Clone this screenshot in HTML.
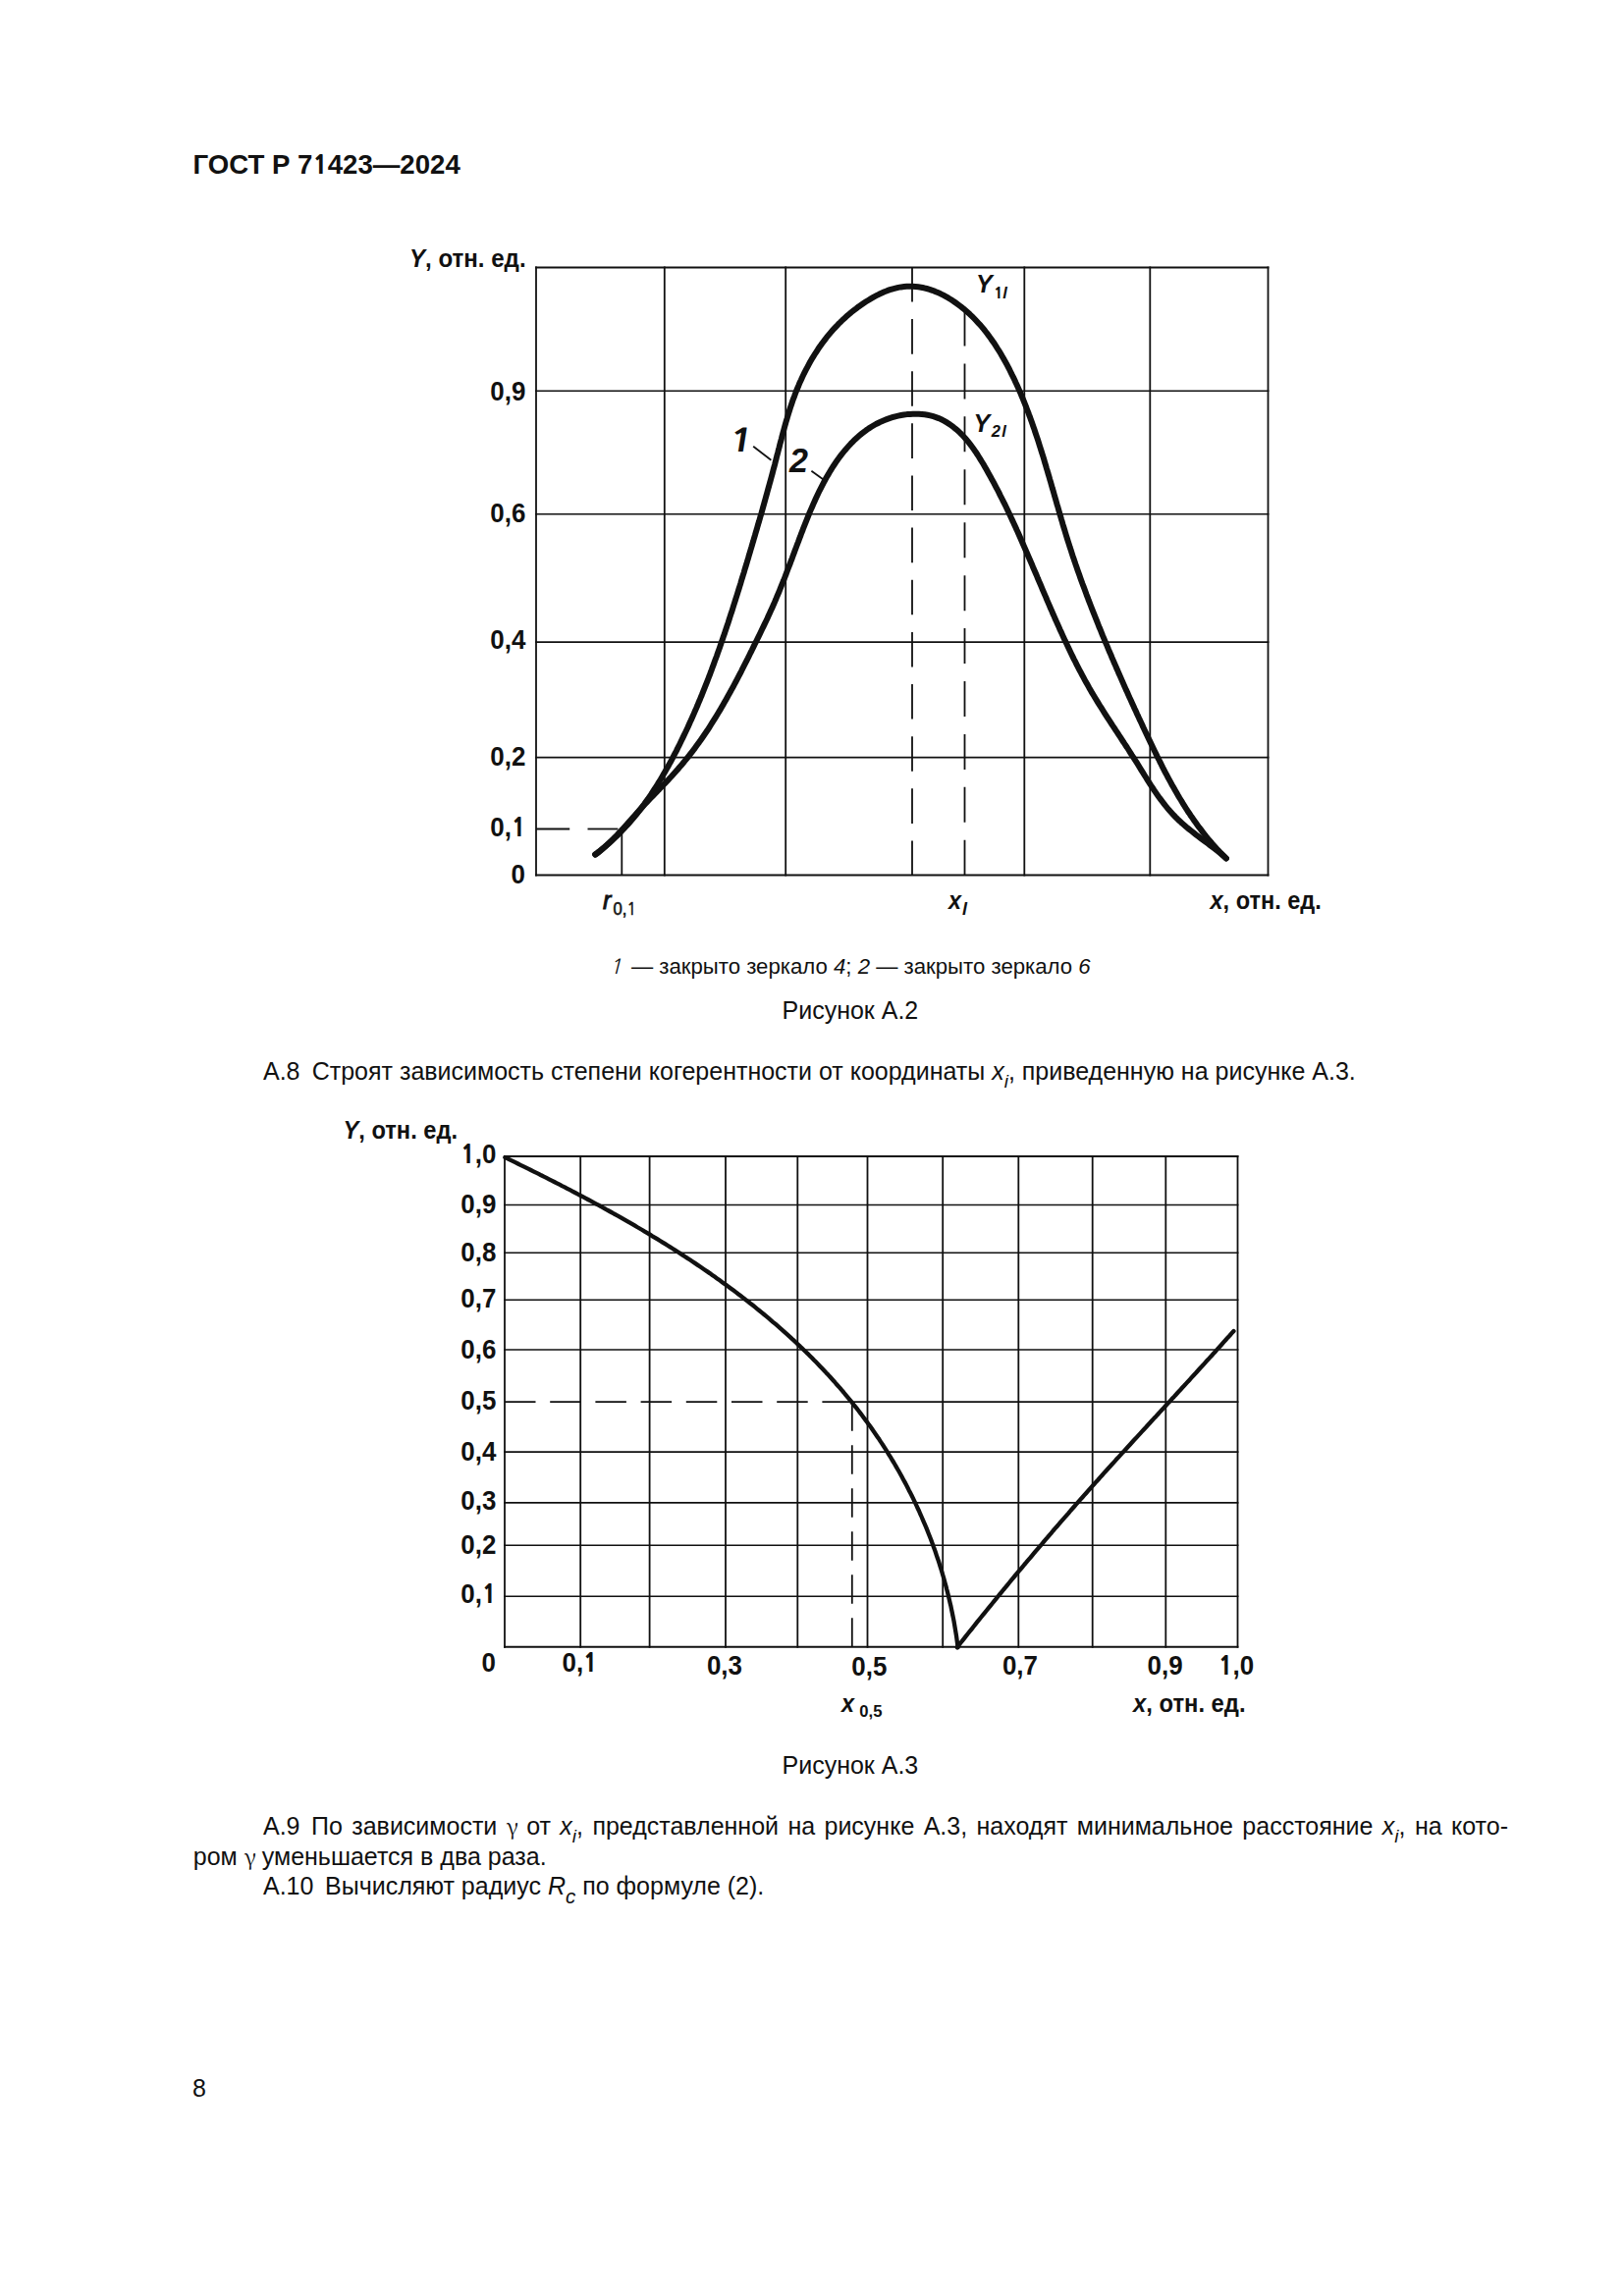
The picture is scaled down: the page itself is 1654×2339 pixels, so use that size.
<!DOCTYPE html>
<html lang="ru">
<head>
<meta charset="utf-8">
<title>ГОСТ Р 71423—2024</title>
<style>
html,body{margin:0;padding:0;background:#fff;}
body{width:1654px;height:2339px;position:relative;overflow:hidden;font-family:"Liberation Sans",Arial,sans-serif;color:#111;}
svg{position:absolute;left:0;top:0;}
svg line{stroke:#111;stroke-width:1.8;}
svg line.h{stroke-width:1.6;}
svg line.hb{stroke-width:2;}
svg .one{font-family:"NanumGothic","Liberation Sans",sans-serif;font-weight:800;font-size:0.93em;letter-spacing:-0.01em;}
svg .one1{font-family:"NanumGothic","Liberation Sans",sans-serif;font-size:0.95em;letter-spacing:-0.02em;}
svg .cv{fill:none;stroke:#111;stroke-linecap:round;stroke-linejoin:round;}
svg text{font-family:"Liberation Sans",Arial,sans-serif;fill:#111;}
.b{font-weight:bold;}
.i{font-style:italic;}
.ln{position:absolute;white-space:nowrap;font-size:25px;line-height:30px;}
.ln i{font-style:italic;}
.g{font-family:"Noto Serif CJK SC","Liberation Serif",serif;font-style:normal;font-size:23px;letter-spacing:-1.4px;line-height:0;}
sub{font-size:19px;vertical-align:-8px;line-height:0;}
sub.c{font-size:20.5px;vertical-align:-9.4px;}
.pf{display:inline-block;width:49px;}
</style>
</head>
<body>
<svg width="1654" height="2339" viewBox="0 0 1654 2339">
<line x1="546.0" y1="271.5" x2="546.0" y2="892.4"/>
<line x1="676.8" y1="271.5" x2="676.8" y2="892.4"/>
<line x1="800.2" y1="271.5" x2="800.2" y2="892.4"/>
<line x1="1043.3" y1="271.5" x2="1043.3" y2="892.4"/>
<line x1="1171.3" y1="271.5" x2="1171.3" y2="892.4"/>
<line x1="1291.5" y1="271.5" x2="1291.5" y2="892.4"/>
<line class="hb" x1="545.1" y1="272.4" x2="1292.4" y2="272.4"/>
<line class="h" x1="545.1" y1="398.2" x2="1292.4" y2="398.2"/>
<line class="h" x1="545.1" y1="523.7" x2="1292.4" y2="523.7"/>
<line class="h" x1="545.1" y1="654.1" x2="1292.4" y2="654.1"/>
<line class="h" x1="545.1" y1="771.6" x2="1292.4" y2="771.6"/>
<line class="hb" x1="545.1" y1="891.5" x2="1292.4" y2="891.5"/>
<line class="d1" x1="929" y1="271.9" x2="929" y2="891.3" stroke-dasharray="35.6 17.54"/>
<line class="d1" x1="982.5" y1="316.5" x2="982.5" y2="891.3" stroke-dasharray="36 17.93"/>
<line x1="546" y1="844.5" x2="580.2" y2="844.5"/>
<line x1="598.5" y1="844.5" x2="629.4" y2="844.5"/>
<line x1="633.3" y1="848" x2="633.3" y2="891.3"/>
<line x1="767.2" y1="454.7" x2="785.4" y2="468.8" stroke-width="1.6"/>
<line x1="826.4" y1="479.8" x2="838.9" y2="488.7" stroke-width="1.6"/>
<path class="cv" d="M606.1,870.5 L608.5,868.7 L610.9,866.8 L613.3,864.9 L615.7,863.0 L618.0,861.0 L620.3,859.0 L622.5,857.0 L624.8,854.9 L626.9,852.9 L629.1,850.8 L631.2,848.7 L633.3,846.5 L635.4,844.3 L637.4,842.1 L639.4,839.9 L641.4,837.7 L643.4,835.4 L645.3,833.1 L647.2,830.8 L649.1,828.5 L650.9,826.1 L652.7,823.8 L654.5,821.4 L656.3,819.0 L658.0,816.5 L659.8,814.1 L661.5,811.6 L663.2,809.2 L664.8,806.7 L666.4,804.2 L668.1,801.6 L669.7,799.1 L671.2,796.5 L672.8,794.0 L674.3,791.4 L675.8,788.8 L677.3,786.2 L678.8,783.6 L680.3,781.0 L681.7,778.4 L683.2,775.7 L684.6,773.1 L686.0,770.4 L687.4,767.7 L688.8,765.1 L690.1,762.4 L691.5,759.7 L692.8,757.0 L694.1,754.3 L695.4,751.6 L696.7,748.9 L698.0,746.2 L699.3,743.5 L700.6,740.8 L701.8,738.0 L703.0,735.3 L704.3,732.6 L705.5,729.8 L706.7,727.1 L707.9,724.3 L709.1,721.6 L710.3,718.8 L711.4,716.0 L712.6,713.3 L713.7,710.5 L714.9,707.7 L716.0,704.9 L717.1,702.2 L718.2,699.4 L719.3,696.6 L720.4,693.8 L721.5,691.0 L722.6,688.2 L723.6,685.4 L724.7,682.6 L725.7,679.8 L726.8,676.9 L727.8,674.1 L728.8,671.3 L729.9,668.5 L730.9,665.6 L731.9,662.8 L732.9,660.0 L733.9,657.1 L734.8,654.3 L735.8,651.5 L736.8,648.6 L737.8,645.8 L738.7,642.9 L739.7,640.1 L740.6,637.2 L741.6,634.4 L742.5,631.5 L743.4,628.7 L744.3,625.8 L745.3,622.9 L746.2,620.1 L747.1,617.2 L748.0,614.4 L748.9,611.5 L749.8,608.6 L750.7,605.8 L751.6,602.9 L752.5,600.0 L753.4,597.2 L754.3,594.3 L755.1,591.4 L756.0,588.5 L756.9,585.7 L757.8,582.8 L758.6,579.9 L759.5,577.0 L760.4,574.2 L761.2,571.3 L762.1,568.4 L762.9,565.5 L763.8,562.7 L764.6,559.8 L765.5,556.9 L766.3,554.1 L767.2,551.2 L768.0,548.3 L768.9,545.4 L769.7,542.5 L770.6,539.7 L771.4,536.8 L772.2,533.9 L773.1,531.0 L773.9,528.2 L774.7,525.3 L775.6,522.4 L776.4,519.5 L777.2,516.6 L778.0,513.7 L778.8,510.9 L779.6,508.0 L780.4,505.1 L781.2,502.2 L782.0,499.3 L782.8,496.4 L783.6,493.5 L784.4,490.6 L785.2,487.7 L786.0,484.8 L786.8,481.9 L787.5,479.0 L788.3,476.1 L789.1,473.2 L789.8,470.3 L790.6,467.4 L791.3,464.4 L792.1,461.5 L792.8,458.6 L793.6,455.7 L794.3,452.8 L795.1,449.9 L795.9,446.9 L796.6,444.0 L797.4,441.1 L798.2,438.2 L799.0,435.3 L799.8,432.4 L800.6,429.5 L801.5,426.6 L802.3,423.8 L803.2,420.9 L804.1,418.0 L805.0,415.2 L806.0,412.3 L806.9,409.5 L807.9,406.6 L809.0,403.8 L810.0,401.0 L811.1,398.2 L812.2,395.5 L813.4,392.7 L814.5,389.9 L815.8,387.2 L817.0,384.5 L818.3,381.8 L819.6,379.1 L821.0,376.4 L822.4,373.8 L823.8,371.1 L825.2,368.5 L826.7,365.9 L828.3,363.4 L829.9,360.8 L831.5,358.3 L833.1,355.8 L834.8,353.3 L836.5,350.9 L838.3,348.5 L840.1,346.1 L841.9,343.7 L843.8,341.4 L845.7,339.1 L847.7,336.8 L849.7,334.6 L851.8,332.4 L853.8,330.2 L856.0,328.1 L858.1,326.0 L860.4,324.0 L862.6,321.9 L864.9,320.0 L867.2,318.0 L869.6,316.1 L872.0,314.3 L874.4,312.4 L876.9,310.7 L879.4,309.0 L882.0,307.3 L884.6,305.7 L887.2,304.1 L889.8,302.6 L892.5,301.2 L895.2,299.8 L898.0,298.5 L900.7,297.3 L903.5,296.2 L906.3,295.2 L909.2,294.3 L912.0,293.6 L914.9,292.9 L917.8,292.4 L920.7,292.1 L923.6,291.8 L926.5,291.8 L929.4,291.8 L932.3,292.0 L935.2,292.3 L938.1,292.7 L941.0,293.3 L943.9,294.0 L946.8,294.8 L949.6,295.8 L952.4,296.9 L955.2,298.1 L958.0,299.3 L960.7,300.7 L963.4,302.2 L966.1,303.7 L968.7,305.3 L971.3,307.0 L973.8,308.8 L976.3,310.6 L978.7,312.4 L981.1,314.3 L983.4,316.3 L985.7,318.3 L987.9,320.3 L990.1,322.4 L992.2,324.5 L994.3,326.7 L996.3,328.9 L998.3,331.1 L1000.3,333.4 L1002.2,335.7 L1004.0,338.0 L1005.9,340.4 L1007.6,342.8 L1009.4,345.2 L1011.1,347.7 L1012.8,350.1 L1014.4,352.6 L1016.0,355.2 L1017.6,357.7 L1019.2,360.3 L1020.7,362.9 L1022.2,365.5 L1023.6,368.1 L1025.1,370.7 L1026.5,373.4 L1027.9,376.0 L1029.2,378.7 L1030.5,381.4 L1031.9,384.1 L1033.2,386.8 L1034.4,389.5 L1035.7,392.2 L1036.9,394.9 L1038.1,397.7 L1039.3,400.4 L1040.5,403.2 L1041.6,405.9 L1042.7,408.7 L1043.8,411.4 L1044.9,414.2 L1046.0,417.0 L1047.1,419.8 L1048.1,422.6 L1049.2,425.4 L1050.2,428.2 L1051.2,431.0 L1052.2,433.9 L1053.2,436.7 L1054.1,439.5 L1055.1,442.4 L1056.0,445.2 L1057.0,448.1 L1057.9,450.9 L1058.8,453.8 L1059.7,456.6 L1060.6,459.5 L1061.5,462.4 L1062.4,465.2 L1063.3,468.1 L1064.1,471.0 L1065.0,473.9 L1065.8,476.8 L1066.7,479.6 L1067.5,482.5 L1068.4,485.4 L1069.2,488.3 L1070.1,491.2 L1070.9,494.1 L1071.7,497.0 L1072.6,499.9 L1073.4,502.8 L1074.2,505.7 L1075.1,508.6 L1075.9,511.5 L1076.7,514.4 L1077.6,517.2 L1078.4,520.1 L1079.2,523.0 L1080.1,525.9 L1080.9,528.8 L1081.8,531.7 L1082.6,534.6 L1083.5,537.5 L1084.4,540.4 L1085.2,543.2 L1086.1,546.1 L1087.0,549.0 L1087.9,551.9 L1088.8,554.7 L1089.7,557.6 L1090.7,560.4 L1091.6,563.3 L1092.5,566.2 L1093.5,569.0 L1094.5,571.9 L1095.4,574.7 L1096.4,577.5 L1097.4,580.4 L1098.4,583.2 L1099.4,586.0 L1100.4,588.9 L1101.4,591.7 L1102.4,594.5 L1103.5,597.3 L1104.5,600.1 L1105.6,603.0 L1106.6,605.8 L1107.7,608.6 L1108.7,611.4 L1109.8,614.2 L1110.9,617.0 L1112.0,619.8 L1113.1,622.6 L1114.2,625.4 L1115.3,628.1 L1116.4,630.9 L1117.5,633.7 L1118.6,636.5 L1119.7,639.3 L1120.9,642.0 L1122.0,644.8 L1123.1,647.6 L1124.3,650.4 L1125.4,653.1 L1126.6,655.9 L1127.8,658.6 L1128.9,661.4 L1130.1,664.2 L1131.3,666.9 L1132.4,669.7 L1133.6,672.4 L1134.8,675.2 L1136.0,677.9 L1137.2,680.7 L1138.4,683.4 L1139.6,686.2 L1140.8,688.9 L1142.0,691.6 L1143.2,694.4 L1144.4,697.1 L1145.6,699.9 L1146.8,702.6 L1148.1,705.3 L1149.3,708.1 L1150.5,710.8 L1151.8,713.5 L1153.0,716.2 L1154.3,719.0 L1155.5,721.7 L1156.8,724.4 L1158.0,727.2 L1159.3,729.9 L1160.5,732.6 L1161.8,735.3 L1163.1,738.0 L1164.3,740.8 L1165.6,743.5 L1166.9,746.2 L1168.2,748.9 L1169.5,751.7 L1170.8,754.4 L1172.1,757.1 L1173.4,759.8 L1174.7,762.5 L1176.0,765.2 L1177.3,767.9 L1178.6,770.6 L1180.0,773.3 L1181.3,776.0 L1182.7,778.7 L1184.0,781.4 L1185.4,784.1 L1186.8,786.8 L1188.2,789.4 L1189.6,792.1 L1191.0,794.7 L1192.5,797.4 L1193.9,800.0 L1195.4,802.6 L1196.9,805.2 L1198.4,807.8 L1199.9,810.4 L1201.4,813.0 L1203.0,815.5 L1204.5,818.1 L1206.1,820.6 L1207.7,823.2 L1209.3,825.7 L1211.0,828.2 L1212.6,830.7 L1214.3,833.1 L1216.0,835.6 L1217.8,838.0 L1219.5,840.4 L1221.3,842.9 L1223.1,845.2 L1224.9,847.6 L1226.8,850.0 L1228.6,852.3 L1230.5,854.6 L1232.5,856.9 L1234.4,859.2 L1236.4,861.4 L1238.4,863.7 L1240.4,865.9 L1242.5,868.1 L1244.6,870.2 L1246.8,872.4 L1248.9,874.5" stroke-width="6.0"/>
<path class="cv" d="M606.5,870.7 L608.9,868.9 L611.2,867.0 L613.5,865.0 L615.7,863.0 L617.9,861.0 L620.1,859.0 L622.3,856.9 L624.4,854.8 L626.5,852.7 L628.6,850.5 L630.6,848.3 L632.7,846.1 L634.7,843.9 L636.7,841.7 L638.7,839.5 L640.7,837.2 L642.7,835.0 L644.7,832.7 L646.7,830.5 L648.7,828.2 L650.7,826.0 L652.7,823.8 L654.8,821.5 L656.8,819.3 L658.9,817.1 L660.9,815.0 L663.0,812.8 L665.1,810.6 L667.2,808.4 L669.3,806.3 L671.4,804.1 L673.4,801.9 L675.5,799.8 L677.6,797.6 L679.7,795.4 L681.7,793.2 L683.8,791.0 L685.8,788.8 L687.8,786.6 L689.8,784.3 L691.7,782.0 L693.7,779.8 L695.6,777.5 L697.5,775.2 L699.4,772.8 L701.3,770.5 L703.1,768.1 L704.9,765.8 L706.8,763.4 L708.5,761.0 L710.3,758.5 L712.1,756.1 L713.8,753.7 L715.5,751.2 L717.2,748.7 L718.9,746.3 L720.6,743.8 L722.2,741.3 L723.8,738.7 L725.4,736.2 L727.0,733.7 L728.6,731.1 L730.2,728.5 L731.7,726.0 L733.3,723.4 L734.8,720.8 L736.3,718.2 L737.8,715.6 L739.3,713.0 L740.8,710.3 L742.2,707.7 L743.7,705.1 L745.1,702.4 L746.6,699.8 L748.0,697.1 L749.4,694.5 L750.8,691.8 L752.2,689.1 L753.6,686.5 L755.0,683.8 L756.3,681.1 L757.7,678.4 L759.1,675.7 L760.4,673.1 L761.8,670.4 L763.1,667.7 L764.4,665.0 L765.8,662.3 L767.1,659.6 L768.4,656.9 L769.8,654.2 L771.1,651.5 L772.4,648.9 L773.7,646.2 L775.0,643.5 L776.3,640.8 L777.6,638.1 L778.9,635.4 L780.2,632.7 L781.5,630.0 L782.7,627.3 L784.0,624.5 L785.2,621.8 L786.5,619.1 L787.7,616.3 L788.9,613.6 L790.1,610.8 L791.2,608.0 L792.4,605.3 L793.6,602.5 L794.7,599.7 L795.8,596.9 L796.9,594.1 L798.1,591.3 L799.2,588.5 L800.3,585.7 L801.3,582.8 L802.4,580.0 L803.5,577.2 L804.6,574.4 L805.6,571.6 L806.7,568.8 L807.7,566.0 L808.8,563.1 L809.8,560.3 L810.9,557.5 L811.9,554.8 L813.0,552.0 L814.0,549.2 L815.1,546.4 L816.1,543.6 L817.2,540.9 L818.2,538.1 L819.3,535.4 L820.4,532.6 L821.5,529.9 L822.6,527.1 L823.7,524.4 L824.8,521.6 L826.0,518.9 L827.2,516.2 L828.4,513.4 L829.6,510.7 L830.8,508.0 L832.1,505.2 L833.4,502.5 L834.7,499.8 L836.1,497.1 L837.5,494.4 L838.9,491.7 L840.3,489.0 L841.8,486.3 L843.4,483.6 L844.9,481.0 L846.5,478.4 L848.1,475.8 L849.8,473.3 L851.5,470.7 L853.2,468.2 L855.0,465.8 L856.8,463.4 L858.7,461.0 L860.6,458.7 L862.6,456.4 L864.6,454.1 L866.6,451.9 L868.7,449.8 L870.8,447.7 L873.0,445.7 L875.2,443.8 L877.5,441.9 L879.8,440.1 L882.2,438.3 L884.6,436.6 L887.1,435.0 L889.6,433.5 L892.2,432.0 L894.8,430.7 L897.5,429.4 L900.3,428.2 L903.1,427.1 L905.9,426.1 L908.8,425.2 L911.8,424.3 L914.7,423.6 L917.7,423.0 L920.7,422.5 L923.7,422.1 L926.8,421.9 L929.8,421.7 L932.8,421.7 L935.8,421.8 L938.8,422.0 L941.8,422.3 L944.7,422.8 L947.6,423.4 L950.5,424.2 L953.3,425.1 L956.0,426.1 L958.7,427.3 L961.3,428.6 L963.9,430.1 L966.4,431.7 L968.8,433.4 L971.2,435.2 L973.5,437.1 L975.8,439.1 L978.0,441.1 L980.1,443.3 L982.2,445.5 L984.2,447.8 L986.2,450.2 L988.1,452.6 L989.9,455.0 L991.7,457.5 L993.4,459.9 L995.1,462.5 L996.7,465.0 L998.3,467.6 L999.9,470.2 L1001.5,472.8 L1003.0,475.4 L1004.5,478.0 L1006.0,480.7 L1007.4,483.3 L1008.9,485.9 L1010.3,488.6 L1011.8,491.2 L1013.2,493.9 L1014.6,496.6 L1016.0,499.2 L1017.4,501.9 L1018.7,504.6 L1020.1,507.3 L1021.4,510.0 L1022.8,512.6 L1024.1,515.3 L1025.4,518.0 L1026.7,520.8 L1028.0,523.5 L1029.3,526.2 L1030.5,528.9 L1031.8,531.6 L1033.0,534.3 L1034.3,537.1 L1035.5,539.8 L1036.8,542.5 L1038.0,545.3 L1039.2,548.0 L1040.4,550.7 L1041.6,553.5 L1042.8,556.2 L1044.0,559.0 L1045.2,561.7 L1046.4,564.5 L1047.6,567.2 L1048.8,570.0 L1050.0,572.7 L1051.2,575.5 L1052.3,578.3 L1053.5,581.0 L1054.7,583.8 L1055.9,586.5 L1057.0,589.3 L1058.2,592.1 L1059.4,594.8 L1060.6,597.6 L1061.7,600.3 L1062.9,603.1 L1064.1,605.9 L1065.3,608.6 L1066.4,611.4 L1067.6,614.1 L1068.8,616.9 L1070.0,619.7 L1071.2,622.4 L1072.4,625.2 L1073.6,627.9 L1074.8,630.7 L1076.0,633.4 L1077.3,636.2 L1078.5,638.9 L1079.7,641.7 L1081.0,644.4 L1082.2,647.1 L1083.5,649.9 L1084.7,652.6 L1086.0,655.3 L1087.3,658.0 L1088.6,660.8 L1089.9,663.5 L1091.2,666.2 L1092.5,668.9 L1093.8,671.6 L1095.2,674.2 L1096.5,676.9 L1097.9,679.6 L1099.3,682.3 L1100.7,684.9 L1102.1,687.6 L1103.5,690.2 L1104.9,692.8 L1106.4,695.5 L1107.9,698.1 L1109.3,700.7 L1110.8,703.3 L1112.3,705.9 L1113.9,708.5 L1115.4,711.0 L1117.0,713.6 L1118.5,716.1 L1120.1,718.7 L1121.7,721.2 L1123.3,723.8 L1124.9,726.3 L1126.5,728.8 L1128.1,731.3 L1129.8,733.9 L1131.4,736.4 L1133.0,738.9 L1134.7,741.4 L1136.3,743.9 L1138.0,746.4 L1139.6,748.9 L1141.3,751.4 L1142.9,754.0 L1144.6,756.5 L1146.2,759.0 L1147.9,761.5 L1149.5,764.0 L1151.1,766.6 L1152.7,769.1 L1154.4,771.6 L1156.0,774.2 L1157.6,776.7 L1159.2,779.3 L1160.7,781.8 L1162.3,784.4 L1163.9,786.9 L1165.5,789.5 L1167.1,792.0 L1168.7,794.6 L1170.3,797.1 L1171.9,799.6 L1173.6,802.1 L1175.2,804.6 L1176.9,807.1 L1178.6,809.6 L1180.3,812.0 L1182.1,814.4 L1183.9,816.8 L1185.7,819.1 L1187.6,821.5 L1189.5,823.8 L1191.4,826.0 L1193.4,828.2 L1195.4,830.4 L1197.5,832.6 L1199.6,834.7 L1201.8,836.7 L1204.0,838.8 L1206.3,840.7 L1208.6,842.7 L1210.9,844.6 L1213.3,846.5 L1215.7,848.4 L1218.1,850.3 L1220.5,852.1 L1223.0,854.0 L1225.4,855.8 L1227.8,857.6 L1230.3,859.4 L1232.7,861.3 L1235.1,863.1 L1237.5,864.9 L1239.8,866.8 L1242.2,868.7 L1244.5,870.6 L1246.7,872.5 L1248.9,874.4" stroke-width="6.0"/>
<line x1="514.0" y1="1177.1" x2="514.0" y2="1678.7"/>
<line x1="591.2" y1="1177.1" x2="591.2" y2="1678.7"/>
<line x1="661.6" y1="1177.1" x2="661.6" y2="1678.7"/>
<line x1="739.0" y1="1177.1" x2="739.0" y2="1678.7"/>
<line x1="812.3" y1="1177.1" x2="812.3" y2="1678.7"/>
<line x1="883.5" y1="1177.1" x2="883.5" y2="1678.7"/>
<line x1="960.2" y1="1177.1" x2="960.2" y2="1678.7"/>
<line x1="1037.3" y1="1177.1" x2="1037.3" y2="1678.7"/>
<line x1="1112.7" y1="1177.1" x2="1112.7" y2="1678.7"/>
<line x1="1187.3" y1="1177.1" x2="1187.3" y2="1678.7"/>
<line x1="1260.5" y1="1177.1" x2="1260.5" y2="1678.7"/>
<line class="hb" x1="513.1" y1="1178.0" x2="1261.4" y2="1178.0"/>
<line class="h" x1="513.1" y1="1227.5" x2="1261.4" y2="1227.5"/>
<line class="h" x1="513.1" y1="1276.3" x2="1261.4" y2="1276.3"/>
<line class="h" x1="513.1" y1="1324.3" x2="1261.4" y2="1324.3"/>
<line class="h" x1="513.1" y1="1375.0" x2="1261.4" y2="1375.0"/>
<line class="h" x1="513.1" y1="1479.1" x2="1261.4" y2="1479.1"/>
<line class="h" x1="513.1" y1="1530.9" x2="1261.4" y2="1530.9"/>
<line class="h" x1="513.1" y1="1574.3" x2="1261.4" y2="1574.3"/>
<line class="h" x1="513.1" y1="1626.2" x2="1261.4" y2="1626.2"/>
<line class="hb" x1="513.1" y1="1677.8" x2="1261.4" y2="1677.8"/>
<line x1="514" y1="1428.2" x2="868" y2="1428.2" stroke-dasharray="31.5 14.7"/>
<line x1="868" y1="1428.2" x2="1261.4" y2="1428.2"/>
<line x1="867.8" y1="1428.2" x2="867.8" y2="1677.6" stroke-dasharray="29.6 14.4"/>
<path class="cv" d="M514.3,1179.1 L517.0,1180.3 L519.6,1181.6 L522.2,1182.9 L524.8,1184.2 L527.5,1185.5 L530.1,1186.8 L532.8,1188.1 L535.4,1189.4 L538.0,1190.7 L540.7,1192.0 L543.3,1193.3 L546.0,1194.6 L548.6,1195.9 L551.2,1197.3 L553.9,1198.6 L556.5,1199.9 L559.2,1201.3 L561.8,1202.6 L564.5,1204.0 L567.1,1205.3 L569.8,1206.7 L572.4,1208.1 L575.1,1209.4 L577.7,1210.8 L580.4,1212.2 L583.0,1213.6 L585.7,1215.0 L588.3,1216.3 L591.0,1217.8 L593.6,1219.2 L596.3,1220.6 L598.9,1222.0 L601.6,1223.4 L604.2,1224.8 L606.9,1226.3 L609.5,1227.7 L612.1,1229.2 L614.8,1230.6 L617.4,1232.1 L620.0,1233.5 L622.7,1235.0 L625.3,1236.5 L627.9,1237.9 L630.6,1239.4 L633.2,1240.9 L635.8,1242.4 L638.4,1243.9 L641.1,1245.4 L643.7,1246.9 L646.3,1248.4 L648.9,1250.0 L651.5,1251.5 L654.1,1253.0 L656.7,1254.6 L659.3,1256.1 L661.9,1257.7 L664.5,1259.3 L667.1,1260.8 L669.7,1262.4 L672.2,1264.0 L674.8,1265.6 L677.4,1267.2 L679.9,1268.8 L682.5,1270.4 L685.1,1272.0 L687.6,1273.6 L690.2,1275.3 L692.7,1276.9 L695.3,1278.6 L697.8,1280.2 L700.3,1281.9 L702.9,1283.5 L705.4,1285.2 L707.9,1286.9 L710.4,1288.6 L712.9,1290.3 L715.4,1292.0 L717.9,1293.7 L720.4,1295.4 L722.9,1297.1 L725.4,1298.9 L727.8,1300.6 L730.3,1302.4 L732.7,1304.1 L735.2,1305.9 L737.6,1307.7 L740.1,1309.4 L742.5,1311.2 L744.9,1313.0 L747.4,1314.8 L749.8,1316.6 L752.2,1318.5 L754.6,1320.3 L757.0,1322.1 L759.3,1324.0 L761.7,1325.8 L764.1,1327.7 L766.5,1329.5 L768.8,1331.4 L771.1,1333.3 L773.5,1335.2 L775.8,1337.1 L778.1,1339.0 L780.4,1340.9 L782.8,1342.9 L785.0,1344.8 L787.3,1346.8 L789.6,1348.7 L791.9,1350.7 L794.1,1352.6 L796.4,1354.6 L798.6,1356.6 L800.9,1358.6 L803.1,1360.6 L805.3,1362.6 L807.5,1364.7 L809.7,1366.7 L811.9,1368.8 L814.1,1370.8 L816.2,1372.9 L818.4,1375.0 L820.5,1377.0 L822.7,1379.1 L824.8,1381.2 L826.9,1383.3 L829.0,1385.5 L831.1,1387.6 L833.2,1389.7 L835.3,1391.9 L837.3,1394.0 L839.4,1396.2 L841.4,1398.4 L843.5,1400.6 L845.5,1402.8 L847.5,1405.0 L849.5,1407.2 L851.4,1409.5 L853.4,1411.7 L855.4,1413.9 L857.3,1416.2 L859.3,1418.5 L861.2,1420.8 L863.1,1423.1 L865.0,1425.4 L866.9,1427.7 L868.7,1430.0 L870.6,1432.3 L872.5,1434.7 L874.3,1437.0 L876.1,1439.4 L877.9,1441.8 L879.7,1444.2 L881.5,1446.6 L883.3,1449.0 L885.0,1451.4 L886.8,1453.8 L888.5,1456.3 L890.2,1458.7 L891.9,1461.2 L893.6,1463.7 L895.3,1466.1 L896.9,1468.6 L898.6,1471.1 L900.2,1473.7 L901.8,1476.2 L903.4,1478.7 L905.0,1481.3 L906.6,1483.8 L908.1,1486.4 L909.7,1489.0 L911.2,1491.5 L912.7,1494.1 L914.2,1496.7 L915.7,1499.3 L917.2,1502.0 L918.6,1504.6 L920.0,1507.2 L921.5,1509.9 L922.9,1512.5 L924.3,1515.2 L925.6,1517.9 L927.0,1520.6 L928.4,1523.2 L929.7,1525.9 L931.0,1528.6 L932.3,1531.4 L933.6,1534.1 L934.8,1536.8 L936.1,1539.5 L937.3,1542.3 L938.5,1545.0 L939.7,1547.8 L940.9,1550.6 L942.1,1553.3 L943.3,1556.1 L944.4,1558.9 L945.5,1561.7 L946.6,1564.5 L947.7,1567.3 L948.8,1570.1 L949.8,1573.0 L950.8,1575.8 L951.9,1578.6 L952.9,1581.5 L953.8,1584.3 L954.8,1587.2 L955.8,1590.0 L956.7,1592.9 L957.6,1595.8 L958.5,1598.7 L959.4,1601.6 L960.2,1604.4 L961.1,1607.3 L961.9,1610.2 L962.7,1613.2 L963.5,1616.1 L964.2,1619.0 L965.0,1621.9 L965.7,1624.8 L966.4,1627.8 L967.1,1630.7 L967.8,1633.7 L968.5,1636.6 L969.1,1639.6 L969.7,1642.5 L970.3,1645.5 L970.9,1648.4 L971.5,1651.4 L972.0,1654.4 L972.5,1657.4 L973.0,1660.3 L973.5,1663.3 L974.0,1666.3 L974.4,1669.3 L974.8,1672.3 L975.2,1675.3 L975.6,1678.3" stroke-width="4.3"/>
<path class="cv" d="M974.8,1678.2 L976.6,1675.9 L978.5,1673.5 L980.4,1671.1 L982.2,1668.8 L984.1,1666.4 L986.0,1664.0 L987.9,1661.7 L989.8,1659.3 L991.6,1657.0 L993.5,1654.6 L995.4,1652.2 L997.3,1649.9 L999.2,1647.5 L1001.1,1645.2 L1003.0,1642.9 L1004.9,1640.5 L1006.8,1638.2 L1008.7,1635.8 L1010.6,1633.5 L1012.5,1631.1 L1014.4,1628.8 L1016.3,1626.5 L1018.2,1624.1 L1020.1,1621.8 L1022.0,1619.5 L1024.0,1617.2 L1025.9,1614.8 L1027.8,1612.5 L1029.7,1610.2 L1031.6,1607.9 L1033.6,1605.5 L1035.5,1603.2 L1037.4,1600.9 L1039.4,1598.6 L1041.3,1596.3 L1043.2,1594.0 L1045.2,1591.7 L1047.1,1589.4 L1049.1,1587.1 L1051.0,1584.8 L1053.0,1582.4 L1054.9,1580.1 L1056.9,1577.8 L1058.8,1575.6 L1060.8,1573.3 L1062.7,1571.0 L1064.7,1568.7 L1066.7,1566.4 L1068.6,1564.1 L1070.6,1561.8 L1072.5,1559.5 L1074.5,1557.2 L1076.5,1555.0 L1078.5,1552.7 L1080.4,1550.4 L1082.4,1548.1 L1084.4,1545.9 L1086.4,1543.6 L1088.4,1541.3 L1090.3,1539.0 L1092.3,1536.8 L1094.3,1534.5 L1096.3,1532.2 L1098.3,1530.0 L1100.3,1527.7 L1102.3,1525.5 L1104.3,1523.2 L1106.3,1521.0 L1108.3,1518.7 L1110.3,1516.5 L1112.3,1514.2 L1114.3,1512.0 L1116.3,1509.7 L1118.4,1507.5 L1120.4,1505.2 L1122.4,1503.0 L1124.4,1500.7 L1126.4,1498.5 L1128.4,1496.3 L1130.5,1494.0 L1132.5,1491.8 L1134.5,1489.6 L1136.5,1487.3 L1138.6,1485.1 L1140.6,1482.9 L1142.6,1480.6 L1144.7,1478.4 L1146.7,1476.2 L1148.7,1474.0 L1150.8,1471.7 L1152.8,1469.5 L1154.8,1467.3 L1156.9,1465.1 L1158.9,1462.9 L1161.0,1460.6 L1163.0,1458.4 L1165.0,1456.2 L1167.1,1454.0 L1169.1,1451.8 L1171.2,1449.5 L1173.2,1447.3 L1175.2,1445.1 L1177.3,1442.9 L1179.3,1440.7 L1181.4,1438.4 L1183.4,1436.2 L1185.5,1434.0 L1187.5,1431.8 L1189.5,1429.6 L1191.6,1427.4 L1193.6,1425.1 L1195.7,1422.9 L1197.7,1420.7 L1199.7,1418.5 L1201.8,1416.3 L1203.8,1414.0 L1205.9,1411.8 L1207.9,1409.6 L1209.9,1407.4 L1212.0,1405.2 L1214.0,1402.9 L1216.0,1400.7 L1218.1,1398.5 L1220.1,1396.3 L1222.1,1394.0 L1224.2,1391.8 L1226.2,1389.6 L1228.2,1387.3 L1230.3,1385.1 L1232.3,1382.9 L1234.3,1380.7 L1236.3,1378.4 L1238.4,1376.2 L1240.4,1373.9 L1242.4,1371.7 L1244.4,1369.5 L1246.4,1367.2 L1248.4,1365.0 L1250.4,1362.7 L1252.5,1360.5 L1254.5,1358.2 L1256.5,1356.0" stroke-width="4.3"/>
<text x="196.5" y="177" class="b" font-size="27.6">ГОСТ Р 7<tspan class="one">1</tspan>423—2024</text>

<!-- chart 1 labels -->
<text transform="translate(417 272.2) scale(0.926 1)" class="b" font-size="26"><tspan class="i">Y</tspan>, отн. ед.</text>
<g class="b" font-size="27" text-anchor="end">
<text transform="translate(535.3 407.6) scale(0.96 1)">0,9</text>
<text transform="translate(535.3 531.8) scale(0.96 1)">0,6</text>
<text transform="translate(535.3 660.6) scale(0.96 1)">0,4</text>
<text transform="translate(535.3 779.8) scale(0.96 1)">0,2</text>
<text transform="translate(535.3 851.8) scale(0.96 1)">0,<tspan class="one">1</tspan></text>
<text transform="translate(535.0 900.2) scale(0.96 1)">0</text>
</g>
<text transform="translate(739.5 460) skewX(-9) scale(1.4 1)" style="font-family:NanumGothic" font-weight="bold" font-size="32.5">1</text>
<text transform="translate(804 481) scale(0.96 1)" class="b i" font-size="35.5">2</text>
<text x="994" y="298" class="b i" font-size="25">Y</text>
<text x="1012.3" y="303.8" style="font-family:NanumGothic;font-weight:800;font-size:15.5px">1</text>
<text x="1021.2" y="303.8" class="b i" font-size="16.5">l</text>
<text x="991.5" y="439.7" class="b i" font-size="25">Y</text>
<text x="1009.7" y="444.9" class="b i" font-size="16.5">2</text>
<text x="1020.2" y="444.9" class="b i" font-size="16.5">l</text>
<text x="614" y="925.6" class="i" font-size="25" stroke="#111" stroke-width="0.9">r</text>
<text transform="translate(624.6 931.7) scale(0.9 1)" font-size="18.5" stroke="#111" stroke-width="0.6">0,<tspan class="one1">1</tspan></text>
<text transform="translate(966 925.9) scale(0.9 1)" class="b i" font-size="26">x</text>
<text x="980" y="931.7" class="b i" font-size="18">l</text>
<text transform="translate(1232.5 926) scale(0.905 1)" class="b" font-size="26"><tspan class="i">x</tspan>, отн. ед.</text>

<!-- caption 1 -->
<text x="624" y="991.6" font-size="22.2"><tspan class="i" dx="-3.5" style="font-family:NanumGothic;font-size:21px;letter-spacing:3.5px">1</tspan> — закрыто зеркало <tspan class="i">4</tspan>; <tspan class="i">2</tspan> — закрыто зеркало <tspan class="i">6</tspan></text>
<text x="796.5" y="1037.8" font-size="25">Рисунок А.2</text>

<!-- chart 2 labels -->
<text transform="translate(349.5 1159.6) scale(0.91 1)" class="b" font-size="26"><tspan class="i">Y</tspan>, отн. ед.</text>
<g class="b" font-size="27" text-anchor="end">
<text transform="translate(505.3 1184.7) scale(0.96 1)"><tspan class="one">1</tspan>,0</text>
<text transform="translate(505.3 1235.7) scale(0.96 1)">0,9</text>
<text transform="translate(505.3 1285.2) scale(0.96 1)">0,8</text>
<text transform="translate(505.3 1331.6) scale(0.96 1)">0,7</text>
<text transform="translate(505.3 1383.7) scale(0.96 1)">0,6</text>
<text transform="translate(505.3 1435.8) scale(0.96 1)">0,5</text>
<text transform="translate(505.3 1487.7) scale(0.96 1)">0,4</text>
<text transform="translate(505.3 1537.8) scale(0.96 1)">0,3</text>
<text transform="translate(505.3 1582.8) scale(0.96 1)">0,2</text>
<text transform="translate(505.3 1632.9) scale(0.96 1)">0,<tspan class="one">1</tspan></text>
</g>
<g class="b" font-size="27">
<text transform="translate(490.5 1702.8) scale(0.96 1)">0</text>
<text transform="translate(572.5 1703.3) scale(0.96 1)">0,<tspan class="one">1</tspan></text>
<text transform="translate(719.9 1705.9) scale(0.96 1)">0,3</text>
<text transform="translate(867.3 1706.6) scale(0.96 1)">0,5</text>
<text transform="translate(1020.9 1706.2) scale(0.96 1)">0,7</text>
<text transform="translate(1168.6 1706.2) scale(0.96 1)">0,9</text>
<text transform="translate(1241.1 1706.2) scale(0.96 1)"><tspan class="one">1</tspan>,0</text>
</g>
<text transform="translate(857 1743.7) scale(0.9 1)" class="b i" font-size="26">x</text>
<text transform="translate(875.3 1749.3) scale(0.98 1)" class="b" font-size="17">0,5</text>
<text transform="translate(1154 1743.7) scale(0.915 1)" class="b" font-size="26"><tspan class="i">x</tspan>, отн. ед.</text>
<text x="796.5" y="1806.8" font-size="25">Рисунок А.3</text>

<text x="196" y="2136" font-size="25">8</text>
</svg>

<div class="ln" style="left:268px;top:1076.1px;"><span class="pf" style="width:49.7px">А.8</span>Строят зависимость степени когерентности от координаты <i>x<sub>i</sub></i>, приведенную на рисунке А.3.</div>
<div class="ln" style="left:268px;top:1845.2px;width:1268px;text-align:justify;text-align-last:justify;"><span class="pf">А.9</span>По зависимости <span class="g">γ</span> от <i>x<sub>i</sub></i>, представленной на рисунке А.3, находят минимальное расстояние <i>x<sub>i</sub></i>, на кото-</div>
<div class="ln" style="left:196.8px;top:1876px;">ром <span class="g">γ</span> уменьшается в два раза.</div>
<div class="ln" style="left:268px;top:1905.9px;"><span class="pf" style="width:63px">А.10</span>Вычисляют радиус <i>R<sub class="c">c</sub></i> по формуле (2).</div>
</body>
</html>
